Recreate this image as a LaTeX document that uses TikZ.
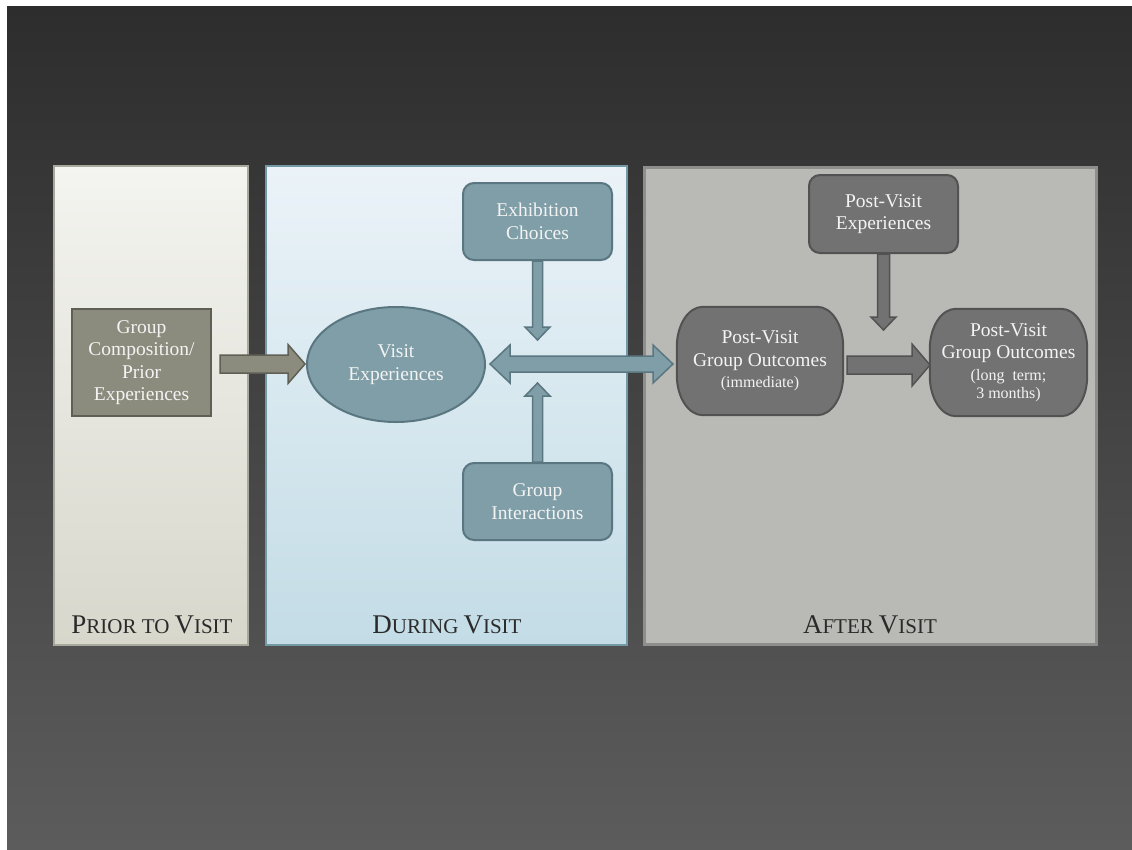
\documentclass[tikz,border=0pt]{standalone}
\usepackage{fontspec}
\setmainfont{Liberation Serif}
\usetikzlibrary{shapes.geometric,calc}
\pgfdeclarelayer{back}
\pgfdeclarelayer{mid}
\pgfsetlayers{back,mid,main}
\definecolor{bgtop}{HTML}{2D2D2D}
\definecolor{bgbot}{HTML}{5C5C5C}
\definecolor{pAt}{HTML}{F4F4F0}
\definecolor{pAb}{HTML}{D8D7CC}
\definecolor{pAd}{HTML}{A9A89C}
\definecolor{pBt}{HTML}{EBF3F8}
\definecolor{pBb}{HTML}{C3DCE6}
\definecolor{pBd}{HTML}{7399A7}
\definecolor{pCf}{HTML}{B9B9B5}
\definecolor{pCd}{HTML}{8E8E8C}
\definecolor{tealf}{HTML}{7F9EA8}
\definecolor{teald}{HTML}{5A7781}
\definecolor{grayf}{HTML}{727272}
\definecolor{grayd}{HTML}{525252}
\definecolor{olivef}{HTML}{8C8C7E}
\definecolor{olived}{HTML}{5F5F55}
\definecolor{captxt}{HTML}{2A2A2A}
\definecolor{nodetxt}{HTML}{F3F3F3}
\newcommand\harr[6]{\filldraw[#1] let \p1=(#2), \p2=(#3) in (\x1,\y1+#4) -- (\x2+#6,\y1+#4) -- (\x2+#6,\y1+#5) -- (\x2,\y1) -- (\x2+#6,\y1-#5) -- (\x2+#6,\y1-#4) -- (\x1,\y1-#4) -- cycle;}
\newcommand\varr[6]{\filldraw[#1] let \p1=(#2), \p2=(#3) in (\x1+#4,\y1) -- (\x1+#4,\y2+#6) -- (\x1+#5,\y2+#6) -- (\x1,\y2) -- (\x1-#5,\y2+#6) -- (\x1-#4,\y2+#6) -- (\x1-#4,\y1) -- cycle;}
\newcommand\dharr[6]{\filldraw[#1] let \p1=(#2), \p2=(#3) in (\x1,\y1) -- (\x1+#6,\y1+#5) -- (\x1+#6,\y1+#4) -- (\x2-#6,\y1+#4) -- (\x2-#6,\y1+#5) -- (\x2,\y1) -- (\x2-#6,\y1-#5) -- (\x2-#6,\y1-#4) -- (\x1+#6,\y1-#4) -- (\x1+#6,\y1-#5) -- cycle;}
\newcommand\capshape[2]{\filldraw[#1] let \p1=(#2.north west), \p2=(#2.south east) in (\x1+26pt,\y1) -- (\x2-26pt,\y1) arc[start angle=90,end angle=0,x radius=26pt,y radius=40pt] -- (\x2,\y2+40pt) arc[start angle=0,end angle=-90,x radius=26pt,y radius=40pt] -- (\x1+26pt,\y2) arc[start angle=270,end angle=180,x radius=26pt,y radius=40pt] -- (\x1,\y1-40pt) arc[start angle=180,end angle=90,x radius=26pt,y radius=40pt] -- cycle;}
\newcommand\capt[4]{{\fontsize{27}{30}\selectfont #1}{\fontsize{21}{30}\selectfont #2\hspace{0.24em}}{\fontsize{27}{30}\selectfont #3}{\fontsize{21}{30}\selectfont #4}}
\newcommand\sm[1]{{\fontsize{16}{18}\selectfont #1}}
\tikzset{
  nodetext/.style={text=nodetxt, align=center, inner sep=0pt, font=\fontsize{19.5}{22.5}\selectfont},
  olivebox/.style={nodetext, rectangle, fill=olivef, draw=olived, line width=2pt},
  tealbox/.style={nodetext, rectangle, rounded corners=11pt, fill=tealf, draw=teald, line width=2pt},
  tealell/.style={nodetext, ellipse, fill=tealf, draw=teald, line width=2pt},
  graybox/.style={nodetext, rectangle, rounded corners=11pt, fill=grayf, draw=grayd, line width=2pt},
  graycap/.style={nodetext, rectangle},
  capfill/.style={fill=grayf, draw=grayd, line width=2pt},
  olivearr/.style={fill=olivef, draw=olived, line width=1.5pt, line join=miter},
  tealarr/.style={fill=tealf, draw=teald, line width=1.5pt, line join=miter},
  grayarr/.style={fill=grayf, draw=grayd, line width=1.5pt, line join=miter},
  caption/.style={text=captxt, inner sep=0pt, anchor=base}
}
\begin{document}
\begin{tikzpicture}[x=1pt,y=-1pt]
\useasboundingbox (0,0) rectangle (1132,849);
\begin{pgfonlayer}{back}
\fill[white] (0,0) rectangle (1132,849);
\shade[top color=bgtop, bottom color=bgbot] (7,6) rectangle (1132,849);
% panels
\filldraw[top color=pAt, bottom color=pAb, draw=pAd, line width=1.5pt] (54,166) rectangle (248,645);
\filldraw[top color=pBt, bottom color=pBb, draw=pBd, line width=1.5pt] (266,166) rectangle (627,645);
\filldraw[fill=pCf, draw=pCd, line width=3pt] (644,167) rectangle (1096,644);
\end{pgfonlayer}
% captions
\node[caption] (cap1) at (152,633) {\capt{P}{RIOR TO}{V}{ISIT}};
\node[caption] (cap2) at (447,633) {\capt{D}{URING}{V}{ISIT}};
\node[caption] (cap3) at (870,633) {\capt{A}{FTER}{V}{ISIT}};
% nodes
\node[olivebox, minimum width=139, minimum height=107] (gc) at (141.5,362.5) {Group\\Composition/\\Prior\\Experiences};
\node[tealell, minimum width=178, minimum height=115] (ve) at (396,364.5) {Visit\\Experiences};
\node[tealbox, minimum width=149, minimum height=77] (ec) at (537.5,221.5) {Exhibition\\Choices};
\node[tealbox, minimum width=149, minimum height=77] (gi) at (537.5,501.5) {Group\\Interactions};
\node[graybox, minimum width=149, minimum height=78] (pve) at (883.5,214) {Post-Visit\\Experiences};
\node[graycap, minimum width=166, minimum height=108] (pvi) at (760,361) {Post-Visit\\Group Outcomes\\[-1pt]\sm{(immediate)}};
\node[graycap, minimum width=157, minimum height=107] (pvl) at (1008.5,362.5) {Post-Visit\\Group Outcomes\\[-1pt]\sm{(long~~term;}\\[-4pt]\sm{3 months)}};
\begin{pgfonlayer}{mid}
\capshape{capfill}{pvi}
\capshape{capfill}{pvl}
\end{pgfonlayer}
% free ends
\coordinate (ecTip) at (537,340);
\coordinate (giTip) at (537,383);
\coordinate (pveTip) at (884,330);
\coordinate (gcS) at ($(gc.east)+(8,1.5)$);
\coordinate (veE) at (305,364);
\coordinate (dL) at (490,364);
\coordinate (dR) at (673,364);
\coordinate (pviS) at (847,365);
\coordinate (pvlE) at (930,365);
% arrows
\harr{olivearr}{gcS}{veE}{9pt}{19.5pt}{-17pt}
\dharr{tealarr}{dL}{dR}{8pt}{19pt}{20pt}
\varr{tealarr}{ec.south}{ecTip}{5pt}{12.5pt}{13pt}
\varr{tealarr}{gi.north}{giTip}{5pt}{12.5pt}{-13pt}
\varr{grayarr}{pve.south}{pveTip}{6pt}{12.5pt}{13pt}
\harr{grayarr}{pviS}{pvlE}{9pt}{21pt}{-18pt}
\end{tikzpicture}
\end{document}
